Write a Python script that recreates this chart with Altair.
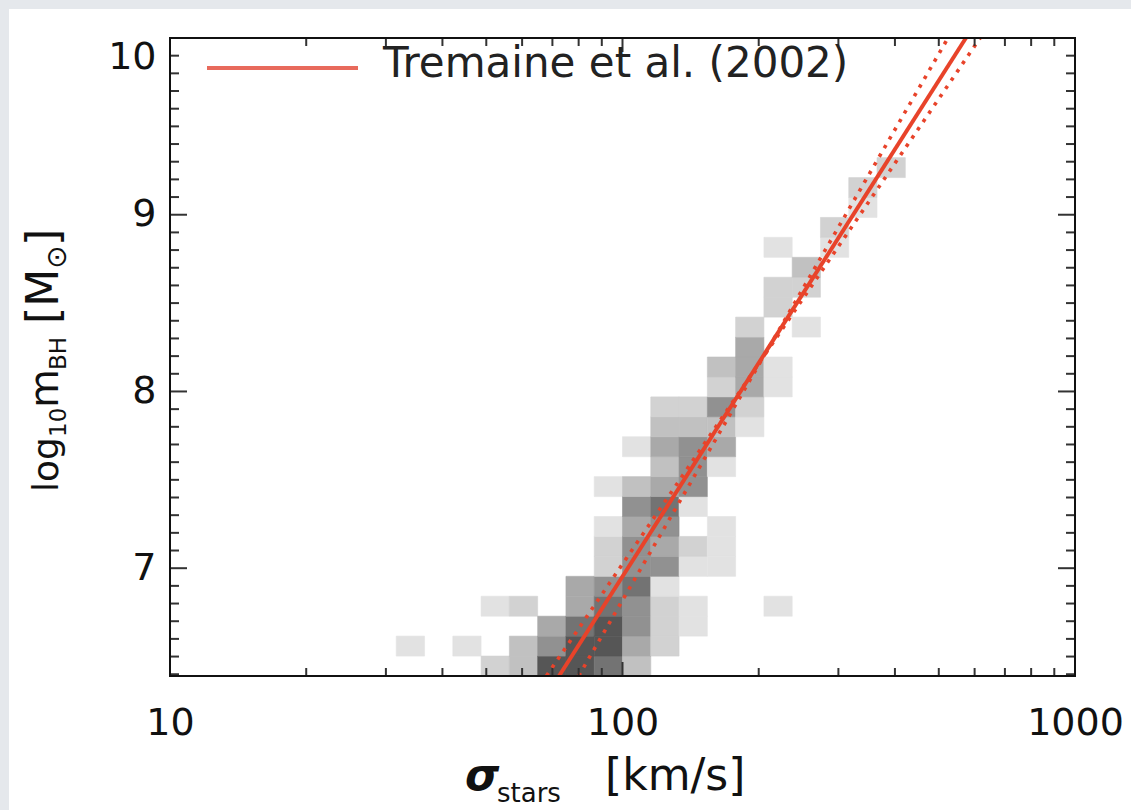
import altair as alt
import pandas as pd

# ---------------- data ----------------
# 2-D histogram cells: column index (log10 sigma bins), row index (log10 m_BH bins), grey level (1 light .. 7 dark)
sigma_bin = [8, 10, 11, 11, 12, 12, 12, 13, 13, 13,
             14, 14, 14, 14, 14,
             15, 15, 15, 15, 15, 15, 15, 15, 15,
             16, 16, 16, 16, 16, 16, 16, 16, 16, 16, 16,
             17, 17, 17, 17, 17, 17, 17, 17, 17, 17, 17, 17, 17,
             18, 18, 18, 18, 18, 18, 18, 18, 18, 18,
             19, 19, 19, 19, 19, 19, 19, 19, 19,
             20, 20, 20, 20, 20, 20,
             21, 21, 21, 21, 21, 21,
             22, 22, 22,
             23, 23,
             24, 24,
             25]
mbh_bin = [1, 1, 0, 3, 0, 1, 3, 0, 1, 2,
           0, 1, 2, 3, 4,
           0, 1, 2, 3, 4, 5, 6, 7, 9,
           0, 1, 2, 3, 4, 5, 6, 7, 8, 9, 11,
           1, 2, 3, 4, 5, 6, 7, 8, 9, 10, 11, 12, 13,
           2, 3, 5, 6, 8, 9, 10, 11, 12, 13,
           5, 6, 7, 10, 11, 12, 13, 14, 15,
           12, 13, 14, 15, 16, 17,
           3, 14, 15, 18, 19, 21,
           17, 19, 20,
           21, 22,
           23, 24,
           25]
level = [1, 1, 2, 1, 3, 3, 2, 7, 5, 4,
         7, 7, 6, 4, 4,
         6, 7, 7, 6, 5, 2, 2, 1, 1,
         3, 4, 5, 5, 6, 5, 5, 4, 5, 3, 1,
         2, 2, 2, 1, 5, 4, 5, 6, 4, 3, 4, 3, 2,
         1, 1, 1, 2, 1, 5, 5, 5, 3, 2,
         1, 1, 1, 1, 4, 3, 5, 2, 3,
         1, 2, 4, 4, 4, 2,
         1, 1, 1, 2, 2, 1,
         1, 2, 3,
         1, 2,
         1, 2,
         2]

# histogram grid
logsig_min, logsig_max, n_xbins = 1.0, 3.0, 32
logm_min, logm_max, n_ybins = 6.39, 10.0, 32

# Tremaine et al. (2002) relation and its 1-sigma slope range, end points
line_kind = ["fit", "fit", "hi", "hi", "lo", "lo"]
line_sigma = [72.4, 574.0, 80.0, 524.0, 67.9, 617.0]
line_logm = [6.39, 10.0, 6.39, 10.0, 6.39, 10.0]

# axis ticks
x_major = [10, 100, 1000]
x_minor = [20, 30, 40, 50, 60, 70, 80, 90, 200, 300, 400, 500, 600, 700, 800, 900]
y_major = [7, 8, 9, 10]
y_minor = [6.4, 6.5, 6.6, 6.7, 6.8, 6.9, 7.1, 7.2, 7.3, 7.4, 7.5, 7.6, 7.7, 7.8, 7.9,
           8.1, 8.2, 8.3, 8.4, 8.5, 8.6, 8.7, 8.8, 8.9, 9.1, 9.2, 9.3, 9.4, 9.5, 9.6,
           9.7, 9.8, 9.9]

levels = [1, 2, 3, 4, 5, 6, 7]
greys = ["#e2e2e2", "#d2d2d2", "#c1c1c1", "#a9a9a9", "#919191", "#737373", "#565656"]

# ---------------- build tables ----------------
dx = (logsig_max - logsig_min) / n_xbins
dy = (logm_max - logm_min) / n_ybins
heat = pd.DataFrame({"k": sigma_bin, "j": mbh_bin, "level": level})
heat["x_lo"] = 10 ** (logsig_min + heat["k"] * dx)
heat["x_hi"] = 10 ** (logsig_min + (heat["k"] + 1) * dx)
heat["y_lo"] = logm_min + heat["j"] * dy
heat["y_hi"] = logm_min + (heat["j"] + 1) * dy

lines = pd.DataFrame({"kind": line_kind, "sigma": line_sigma, "logm": line_logm})
one = pd.DataFrame({"a": [0]})

W, H = 905, 638
FONT = "DejaVu Sans"
RED = "#e8432a"
TICK = "#333333"
EDGE = "#e5e8ec"

xscale = alt.Scale(type="log", domain=[10, 1000], nice=False)
yscale = alt.Scale(domain=[logm_min, logm_max], nice=False, zero=False)

xaxis = alt.Axis(values=x_major, format="d", tickSize=0, domain=False, grid=False,
                 labelFont=FONT, labelFontSize=38, labelColor="#111111", labelPadding=28,
                 labelFlush=False, labelOverlap=False, title=None, zindex=1)
yaxis = alt.Axis(values=y_major, format="d", tickSize=0, domain=False, grid=False,
                 labelFont=FONT, labelFontSize=38, labelColor="#111111", labelPadding=14,
                 labelFlush=True, labelOverlap=False, title=None, zindex=1)


def X(field):
    return alt.X(field, type="quantitative", scale=xscale, axis=xaxis)


def Y(field):
    return alt.Y(field, type="quantitative", scale=yscale, axis=yaxis)


# grey page edge at the top and left (everything else is white)
edge_top = alt.Chart(one).mark_rect(color=EDGE).encode(
    x=alt.value(-170), x2=alt.value(961), y=alt.value(-38), y2=alt.value(-29))
edge_left = alt.Chart(one).mark_rect(color=EDGE).encode(
    x=alt.value(-170), x2=alt.value(-161), y=alt.value(-38), y2=alt.value(772))

hist = alt.Chart(heat).mark_rect(strokeWidth=0.6).encode(
    x=X("x_lo"),
    x2="x_hi:Q",
    y=Y("y_lo"),
    y2="y_hi:Q",
    color=alt.Color("level:O", scale=alt.Scale(domain=levels, range=greys), legend=None),
    stroke=alt.Stroke("level:O", scale=alt.Scale(domain=levels, range=greys), legend=None),
)

dotted = alt.Chart(lines).transform_filter(alt.datum.kind != "fit").mark_line(
    color=RED, strokeWidth=3.6, strokeDash=[3.5, 6.5]).encode(
    x=X("sigma"), y=Y("logm"), detail="kind:N")

solid = alt.Chart(lines).transform_filter(alt.datum.kind == "fit").mark_line(
    color=RED, strokeWidth=4).encode(x=X("sigma"), y=Y("logm"))


def xticks(vals, length):
    d = pd.DataFrame({"v": vals})
    bot = alt.Chart(d).mark_rule(color=TICK, strokeWidth=2).encode(
        x=X("v"), y=alt.value(H), y2=alt.value(H - length))
    top = alt.Chart(d).mark_rule(color=TICK, strokeWidth=2).encode(
        x=X("v"), y=alt.value(0), y2=alt.value(length))
    return [bot, top]


def yticks(vals, length):
    d = pd.DataFrame({"v": vals})
    left = alt.Chart(d).mark_rule(color=TICK, strokeWidth=2).encode(
        y=Y("v"), x=alt.value(0), x2=alt.value(length))
    right = alt.Chart(d).mark_rule(color=TICK, strokeWidth=2).encode(
        y=Y("v"), x=alt.value(W - length), x2=alt.value(W))
    return [left, right]


frame = alt.Chart(one).mark_rect(fill="white", fillOpacity=0, stroke="#111111", strokeWidth=2).encode(
    x=alt.value(0), x2=alt.value(W), y=alt.value(0), y2=alt.value(H))

leg_line = alt.Chart(one).mark_rule(color="#e86a5c", strokeWidth=4).encode(
    x=alt.value(37), x2=alt.value(188), y=alt.value(30))
leg_text = alt.Chart(one).mark_text(text="Tremaine et al. (2002)", align="left", baseline="middle",
                                    font=FONT, fontSize=42, color="#222222").encode(
    x=alt.value(213), y=alt.value(26))


def txt(s, x, y, size, angle=0, style="normal", weight="normal"):
    kw = dict(text=s, align="left", baseline="alphabetic", font=FONT, fontSize=size,
              color="#111111", fontStyle=style, fontWeight=weight)
    if angle:
        kw["angle"] = angle
    return alt.Chart(one).mark_text(**kw).encode(x=alt.value(x), y=alt.value(y))


# x-axis title: sigma_stars [km/s]
xt = [
    txt("σ", 295, 752, 44, style="italic", weight="bold"),
    txt("stars", 327, 764, 26),
    txt("[km/s]", 435, 752, 44),
]
# y-axis title: log10 m_BH [M_sun] (rotated), positions in plot-area pixels
yt = [
    txt("log", -112, 454, 36, angle=270),
    txt("10", -104, 399, 23, angle=270),
    txt("m", -112, 370, 40, angle=270),
    txt("BH", -104, 332, 23, angle=270),
    txt("[M", -112, 286, 44, angle=270),
    txt("⊙", -104, 231, 28, angle=270),
    txt("]", -112, 208, 44, angle=270),
]

layers = ([edge_top, edge_left, hist, dotted, solid]
          + xticks(x_minor, 8) + xticks(x_major, 14)
          + yticks(y_minor, 9) + yticks(y_major, 17)
          + [frame, leg_line, leg_text] + xt + yt)

chart = alt.layer(*layers).properties(
    width=W, height=H,
    background="white",
    padding={"left": 170, "top": 38, "right": 56, "bottom": 134},
    autosize=alt.AutoSizeParams(type="none"),
).configure_view(stroke=None)

chart.save("out.html", embed_options={"renderer": "svg", "actions": False})
